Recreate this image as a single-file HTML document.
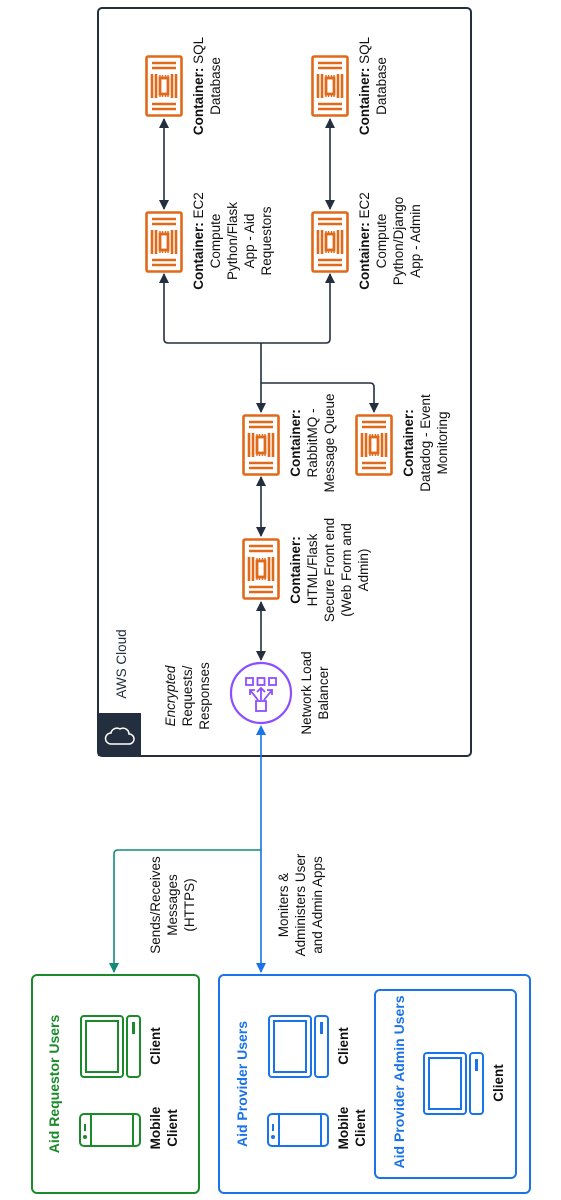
<!DOCTYPE html>
<html><head><meta charset="utf-8"><style>
html,body{margin:0;padding:0;background:#fff;}
svg{display:block;font-family:"Liberation Sans",Arial,sans-serif;}
</style></head><body>
<svg width="561" height="1200" viewBox="0 0 561 1200" xmlns="http://www.w3.org/2000/svg">
<defs>
<g id="ctr" fill="none" stroke="#E0691A" stroke-width="2.6">
<rect x="1.5" y="1.5" width="35" height="59" rx="1.5" fill="#fff"/>
<line x1="7" y1="8" x2="31" y2="8"/><line x1="7" y1="13" x2="31" y2="13"/>
<line x1="7" y1="49" x2="31" y2="49"/><line x1="7" y1="54" x2="31" y2="54"/>
<line x1="7" y1="19" x2="7" y2="43"/><line x1="11" y1="19" x2="11" y2="43"/>
<line x1="27" y1="19" x2="27" y2="43"/><line x1="31" y1="19" x2="31" y2="43"/>
<rect x="15" y="23" width="8" height="16" stroke-width="2.8"/>
<path d="M15 20v2M17.5 20v2M20.5 20v2M23 20v2M15 40v2M17.5 40v2M20.5 40v2M23 40v2" stroke-width="1.4"/>
</g>
<marker id="ak" markerWidth="10" markerHeight="10" refX="9" refY="5" orient="auto-start-reverse" markerUnits="userSpaceOnUse"><path d="M0,0 L10,5 L0,10z" fill="#232f3e"/></marker>
<marker id="ab" markerWidth="10" markerHeight="10" refX="9" refY="5" orient="auto" markerUnits="userSpaceOnUse"><path d="M0,0 L10,5 L0,10z" fill="#1a73e8"/></marker>
<marker id="ag" markerWidth="10" markerHeight="10" refX="9" refY="5" orient="auto" markerUnits="userSpaceOnUse"><path d="M0,0 L10,5 L0,10z" fill="#148a78"/></marker>
</defs>

<rect x="98" y="8" width="373" height="748" rx="4" fill="none" stroke="#232f3e" stroke-width="2"/>
<rect x="98" y="713" width="43" height="43" fill="#232f3e"/>
<path d="M111 744 h18 a5 5 0 0 0 0 -10 a6 6 0 0 0 -9 -5 a6 6 0 0 0 -9 4 a5 5 0 0 0 0 11z" fill="none" stroke="#fff" stroke-width="1.5"/>
<text transform="translate(126,664) rotate(-90)" text-anchor="middle" font-size="13.5" fill="#232f3e">AWS Cloud</text>

<use href="#ctr" x="145" y="55"/>
<use href="#ctr" x="145" y="211"/>
<use href="#ctr" x="311" y="55"/>
<use href="#ctr" x="311" y="211"/>
<use href="#ctr" x="242" y="414"/>
<use href="#ctr" x="355" y="414"/>
<use href="#ctr" x="242" y="538"/>

<g stroke="#232f3e" stroke-width="1.6" fill="none">
<line x1="164" y1="119" x2="164" y2="209" marker-start="url(#ak)" marker-end="url(#ak)"/>
<line x1="330" y1="119" x2="330" y2="209" marker-start="url(#ak)" marker-end="url(#ak)"/>
<path d="M261 412 V343" marker-start="url(#ak)"/>
<path d="M164 274 V339 q0 4 4 4 H326 q4 0 4 -4 V274" marker-start="url(#ak)" marker-end="url(#ak)"/>
<path d="M261 383 H370 q4 0 4 4 V412" marker-end="url(#ak)"/>
<line x1="261" y1="477" x2="261" y2="536" marker-start="url(#ak)" marker-end="url(#ak)"/>
<line x1="261" y1="602" x2="261" y2="660" marker-start="url(#ak)" marker-end="url(#ak)"/>
</g>

<g fill="none" stroke="#8c4fff" stroke-width="2.2">
<circle cx="261" cy="693" r="30"/>
<rect x="246" y="678" width="7" height="7" stroke-width="1.8"/>
<rect x="257.5" y="678" width="7" height="7" stroke-width="1.8"/>
<rect x="269" y="678" width="7" height="7" stroke-width="1.8"/>
<rect x="256" y="701" width="10" height="10" stroke-width="1.8"/>
<path d="M261 700 V688 M257 692 l4 -4 4 4 M258 700 L250 690 M250 695 V690 H255 M264 700 L272 690 M267 690 H272 V695" stroke-width="1.8"/>
</g>

<line x1="261" y1="730" x2="261" y2="972" stroke="#1a73e8" stroke-width="1.6" marker-end="url(#ab)"/>
<polygon points="256,735 261,725 266,735" fill="#1a73e8"/>
<path d="M261 850 H118 q-4 0 -4 4 V972" fill="none" stroke="#148a78" stroke-width="1.6" marker-end="url(#ag)"/>

<rect x="32" y="975" width="167" height="218" rx="5" fill="none" stroke="#1a8a2a" stroke-width="2"/>
<rect x="219" y="975" width="311" height="218" rx="5" fill="none" stroke="#1a73e8" stroke-width="2"/>
<rect x="375" y="990" width="141" height="188" rx="5" fill="none" stroke="#1a73e8" stroke-width="2"/>

<g fill="none" stroke="#1a8a2a" stroke-width="2">
<rect x="81" y="1016" width="42" height="61" rx="3"/><rect x="86" y="1021" width="32" height="51"/>
<rect x="127" y="1016" width="13" height="61" rx="3"/><line x1="133.5" y1="1022" x2="133.5" y2="1034" stroke-width="3"/>
<rect x="80" y="1114" width="60" height="32" rx="4"/><line x1="91" y1="1115" x2="91" y2="1145"/><line x1="133" y1="1115" x2="133" y2="1145"/>
<line x1="85" y1="1124" x2="85" y2="1131"/><circle cx="85" cy="1137" r="1"/>
</g>
<g fill="none" stroke="#1a73e8" stroke-width="2">
<rect x="269" y="1016" width="42" height="61" rx="3"/><rect x="274" y="1021" width="32" height="51"/>
<rect x="315" y="1016" width="13" height="61" rx="3"/><line x1="321.5" y1="1022" x2="321.5" y2="1034" stroke-width="3"/>
<rect x="268" y="1114" width="60" height="32" rx="4"/><line x1="279" y1="1115" x2="279" y2="1145"/><line x1="321" y1="1115" x2="321" y2="1145"/>
<line x1="273" y1="1124" x2="273" y2="1131"/><circle cx="273" cy="1137" r="1"/>
<rect x="424" y="1053" width="42" height="61" rx="3"/><rect x="429" y="1058" width="32" height="51"/>
<rect x="470" y="1053" width="13" height="61" rx="3"/><line x1="476.5" y1="1059" x2="476.5" y2="1071" stroke-width="3"/>
</g>

<g font-size="13.5" fill="#111" text-anchor="middle">
<text transform="translate(203,86) rotate(-90)"><tspan x="0" dy="0"><tspan font-weight="bold">Container:</tspan> SQL</tspan><tspan x="0" dy="17">Database</tspan></text>
<text transform="translate(369,86) rotate(-90)"><tspan x="0" dy="0"><tspan font-weight="bold">Container:</tspan> SQL</tspan><tspan x="0" dy="17">Database</tspan></text>
<text transform="translate(203,241) rotate(-90)"><tspan x="0"><tspan font-weight="bold">Container:</tspan> EC2</tspan><tspan x="0" dy="17">Compute</tspan><tspan x="0" dy="17">Python/Flask</tspan><tspan x="0" dy="17">App - Aid</tspan><tspan x="0" dy="17">Requestors</tspan></text>
<text transform="translate(369,241) rotate(-90)"><tspan x="0"><tspan font-weight="bold">Container:</tspan> EC2</tspan><tspan x="0" dy="17">Compute</tspan><tspan x="0" dy="17">Python/Django</tspan><tspan x="0" dy="17">App - Admin</tspan></text>
<text transform="translate(300,443) rotate(-90)"><tspan x="0" font-weight="bold">Container:</tspan><tspan x="0" dy="17">RabbitMQ -</tspan><tspan x="0" dy="17">Message Queue</tspan></text>
<text transform="translate(413,443) rotate(-90)"><tspan x="0" font-weight="bold">Container:</tspan><tspan x="0" dy="17">Datadog - Event</tspan><tspan x="0" dy="17">Monitoring</tspan></text>
<text transform="translate(300,570) rotate(-90)"><tspan x="0" font-weight="bold">Container:</tspan><tspan x="0" dy="17">HTML/Flask</tspan><tspan x="0" dy="17">Secure Front end</tspan><tspan x="0" dy="17">(Web Form and</tspan><tspan x="0" dy="17">Admin)</tspan></text>
<text transform="translate(311,693) rotate(-90)"><tspan x="0">Network Load</tspan><tspan x="0" dy="17">Balancer</tspan></text>
<text transform="translate(175,696) rotate(-90)"><tspan x="0" font-style="italic">Encrypted</tspan><tspan x="0" dy="17">Requests/</tspan><tspan x="0" dy="17">Responses</tspan></text>
<text transform="translate(160,905) rotate(-90)"><tspan x="0">Sends/Receives</tspan><tspan x="0" dy="17">Messages</tspan><tspan x="0" dy="17">(HTTPS)</tspan></text>
<text transform="translate(288,905) rotate(-90)"><tspan x="0">Moniters &amp;</tspan><tspan x="0" dy="17">Administers User</tspan><tspan x="0" dy="17">and Admin Apps</tspan></text>
<g font-weight="bold">
<text transform="translate(160,1046) rotate(-90)">Client</text>
<text transform="translate(160,1128) rotate(-90)"><tspan x="0">Mobile</tspan><tspan x="0" dy="17">Client</tspan></text>
<text transform="translate(348,1046) rotate(-90)">Client</text>
<text transform="translate(348,1128) rotate(-90)"><tspan x="0">Mobile</tspan><tspan x="0" dy="17">Client</tspan></text>
<text transform="translate(503,1083) rotate(-90)">Client</text>
<text transform="translate(59,1084) rotate(-90)" fill="#1a8a2a" font-size="14">Aid Requestor Users</text>
<text transform="translate(247,1084) rotate(-90)" fill="#1a73e8" font-size="14">Aid Provider Users</text>
<text transform="translate(404,1082) rotate(-90)" fill="#1a73e8" font-size="14">Aid Provider Admin Users</text>
</g>
</g>
</svg>
</body></html>
